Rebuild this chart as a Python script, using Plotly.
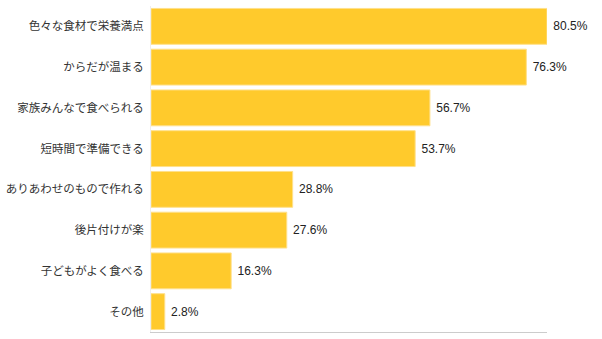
import plotly.graph_objects as go

categories = ["色々な食材で栄養満点", "からだが温まる", "家族みんなで食べられる", "短時間で準備できる",
              "ありあわせのもので作れる", "後片付けが楽", "子どもがよく食べる", "その他"]
values = [80.5, 76.3, 56.7, 53.7, 28.8, 27.6, 16.3, 2.8]
labels = [f" {v:.1f}%" for v in values]

fig = go.Figure(go.Bar(
    y=categories, x=values, orientation="h",
    marker=dict(color="#FFCA2C", line=dict(color="#FFE08A", width=1)),
    text=labels, textposition="outside", cliponaxis=False,
    textfont=dict(size=12, color="#222222", family="Liberation Sans, Arial, sans-serif"),
))
fig.update_layout(
    width=602, height=339,
    margin=dict(l=151, r=55, t=6, b=7),
    paper_bgcolor="white", plot_bgcolor="white",
    bargap=0.12, showlegend=False,
    font=dict(family="Noto Sans CJK JP, Liberation Sans, sans-serif", size=11, color="#333333"),
)
fig.update_xaxes(range=[0, 80.5], showticklabels=False, showgrid=False, zeroline=False,
                 showline=True, linecolor="#CCCCCC", linewidth=1)
fig.update_yaxes(autorange="reversed", showgrid=False, zeroline=False,
                 showline=True, linecolor="#EEEEEE", linewidth=1,
                 ticks="outside", ticklen=4, tickcolor="rgba(0,0,0,0)",
                 tickfont=dict(size=11.5, color="#333333"))
fig.write_html("out.html")
